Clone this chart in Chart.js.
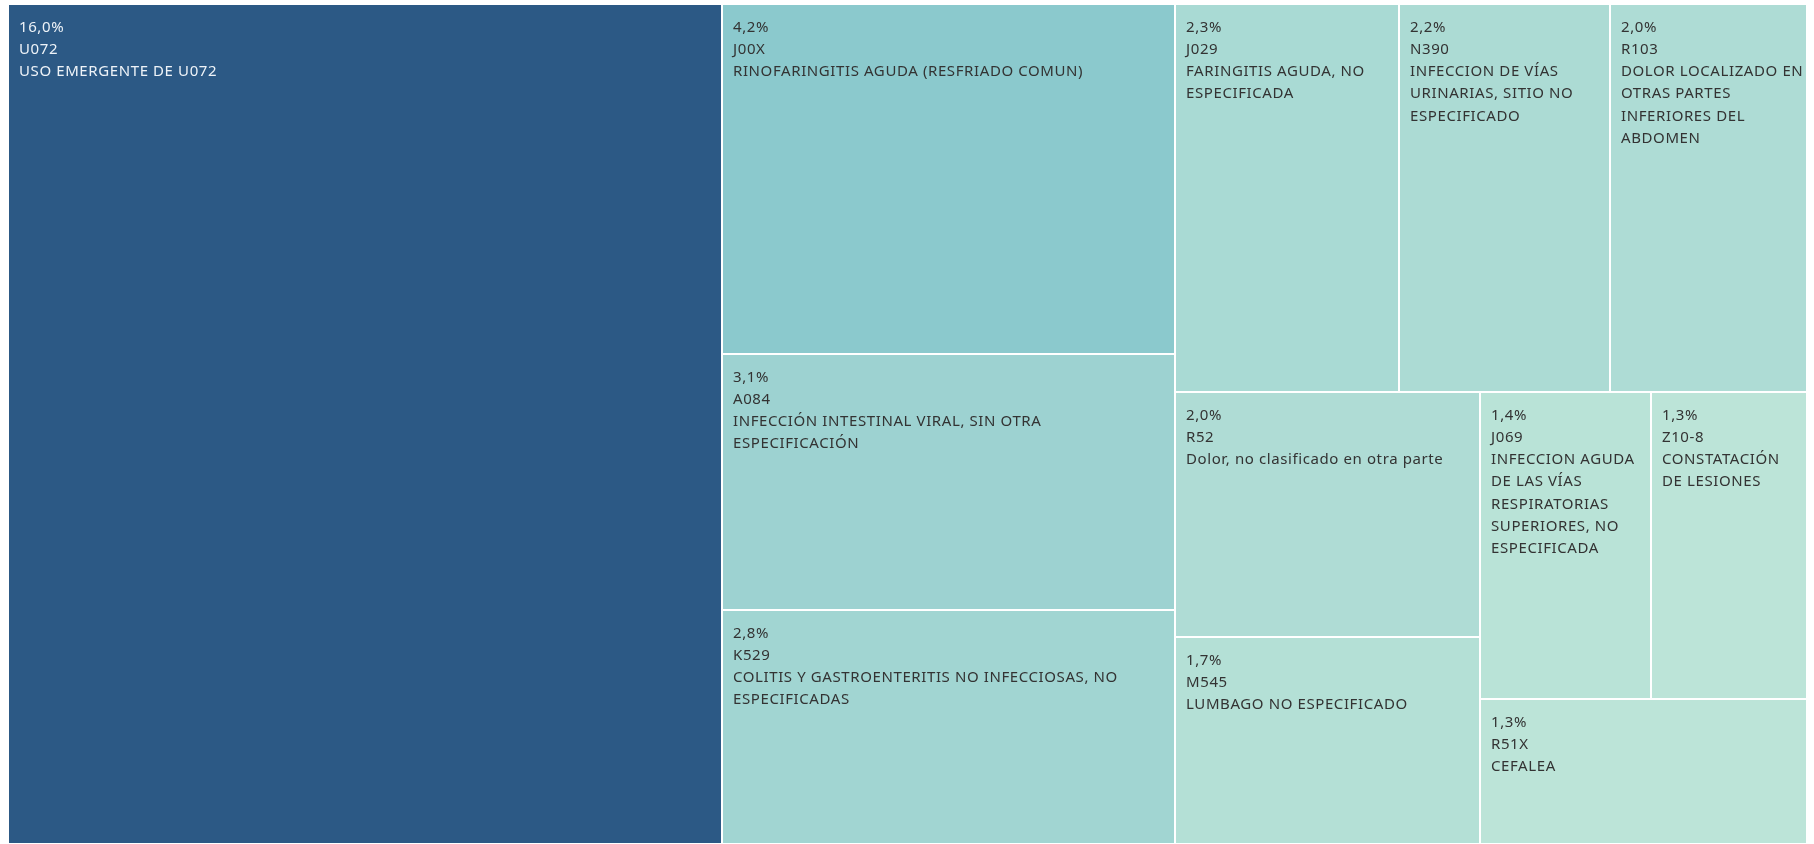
<!DOCTYPE html>
<html>
<head>
<meta charset="utf-8">
<script src="https://cdn.jsdelivr.net/npm/chart.js@4.4.1/dist/chart.umd.min.js"></script>
<style>
    html, body { margin: 0; padding: 0; background: #ffffff; }
    #wrap { width: 1814px; height: 844px; position: relative; }
</style>
</head>
<body>
<div id="wrap"><canvas id="treemap"></canvas></div>
<script>
// --- DATA (share of total cases, %) ---
const codes = ['U072', 'J00X', 'A084', 'K529', 'J029', 'N390', 'R103', 'R52', 'M545', 'J069', 'Z10-8', 'R51X'];
const shares = [16.0, 4.22, 3.1, 2.82, 2.31, 2.18, 2.04, 2.0, 1.68, 1.4, 1.28, 1.26];
const descriptions = [
    ['USO EMERGENTE DE U072'],
    ['RINOFARINGITIS AGUDA (RESFRIADO COMUN)'],
    ['INFECCIÓN INTESTINAL VIRAL, SIN OTRA', 'ESPECIFICACIÓN'],
    ['COLITIS Y GASTROENTERITIS NO INFECCIOSAS, NO', 'ESPECIFICADAS'],
    ['FARINGITIS AGUDA, NO', 'ESPECIFICADA'],
    ['INFECCION DE VÍAS', 'URINARIAS, SITIO NO', 'ESPECIFICADO'],
    ['DOLOR LOCALIZADO EN', 'OTRAS PARTES', 'INFERIORES DEL', 'ABDOMEN'],
    ['Dolor, no clasificado en otra parte'],
    ['LUMBAGO NO ESPECIFICADO'],
    ['INFECCION AGUDA', 'DE LAS VÍAS', 'RESPIRATORIAS', 'SUPERIORES, NO', 'ESPECIFICADA'],
    ['CONSTATACIÓN', 'DE LESIONES'],
    ['CEFALEA']
];

// Blue-Teal sequential palette, light -> dark
const palette = ['#bce4d8', '#aedcd5', '#a1d5d2', '#95cecf', '#89c8cc', '#7ec1ca', '#72bac6', '#66b2c2', '#59acbe', '#4ba5ba',
                 '#419eb6', '#3b96b2', '#358ead', '#3586a7', '#347ea1', '#32779b', '#316f96', '#2f6790', '#2d608a', '#2c5985'];

function hexToRgb(h) { return [1, 3, 5].map(i => parseInt(h.slice(i, i + 2), 16)); }

function colorFor(v) {
    const lo = Math.min(...shares), hi = Math.max(...shares);
    const t = (v - lo) / (hi - lo) * (palette.length - 1);
    const i = Math.min(Math.floor(t), palette.length - 2), f = t - i;
    const a = hexToRgb(palette[i]), b = hexToRgb(palette[i + 1]);
    return a.map((c, k) => Math.round(c + (b[k] - c) * f));
}

// squarified layout (golden-ratio variant, as used by most treemap tools)
function squarify(values, x0, y0, x1, y1) {
    const ratio = (1 + Math.sqrt(5)) / 2;
    const rects = [];
    let value = values.reduce((s, v) => s + v, 0);
    let i0 = 0, i1 = 0;
    const n = values.length;
    while (i0 < n) {
        const dx = x1 - x0, dy = y1 - y0;
        let sumValue = values[i1++];
        let minValue = sumValue, maxValue = sumValue;
        const alpha = Math.max(dy / dx, dx / dy) / (value * ratio);
        let beta = sumValue * sumValue * alpha;
        let minRatio = Math.max(maxValue / beta, beta / minValue);
        for (; i1 < n; ++i1) {
            const v = values[i1];
            sumValue += v;
            if (v < minValue) minValue = v;
            if (v > maxValue) maxValue = v;
            beta = sumValue * sumValue * alpha;
            const newRatio = Math.max(maxValue / beta, beta / minValue);
            if (newRatio > minRatio) { sumValue -= v; break; }
            minRatio = newRatio;
        }
        if (dx < dy) {
            // horizontal row along the top
            const h = dy * sumValue / value;
            let x = x0;
            for (let i = i0; i < i1; i++) {
                const w = dx * values[i] / sumValue;
                rects[i] = { x0: x, y0: y0, x1: x + w, y1: y0 + h };
                x += w;
            }
            y0 += h;
        } else {
            // vertical column on the left
            const w = dx * sumValue / value;
            let y = y0;
            for (let i = i0; i < i1; i++) {
                const h = dy * values[i] / sumValue;
                rects[i] = { x0: x0, y0: y, x1: x0 + w, y1: y + h };
                y += h;
            }
            x0 += w;
        }
        value -= sumValue;
        i0 = i1;
    }
    return rects;
}

const treemapPlugin = {
    id: 'treemap',
    afterDatasetsDraw(chart) {
        const { ctx, chartArea, scales: { x, y } } = chart;
        const aspect = chartArea.width / chartArea.height;
        const cells = squarify(shares, 0, 0, aspect, 1);

        cells.forEach((c, i) => {
            const left = Math.round(x.getPixelForValue(c.x0 / aspect)) + 1;
            const right = Math.round(x.getPixelForValue(c.x1 / aspect)) - 1;
            const top = Math.round(y.getPixelForValue(c.y0)) + 1;
            const bottom = Math.round(y.getPixelForValue(c.y1)) - 1;
            const rgb = colorFor(shares[i]);

            ctx.save();
            ctx.fillStyle = `rgb(${rgb.join(',')})`;
            ctx.fillRect(left, top, right - left, bottom - top);

            // labels
            ctx.beginPath();
            ctx.rect(left, top, right - left, bottom - top);
            ctx.clip();
            const lum = 0.299 * rgb[0] + 0.587 * rgb[1] + 0.114 * rgb[2];
            ctx.fillStyle = lum < 128 ? '#eef3f8' : '#333333';
            ctx.font = '15px "Noto Sans"';
            ctx.letterSpacing = '0.6px';
            ctx.textBaseline = 'alphabetic';
            const lines = [shares[i].toFixed(1).replace('.', ',') + '%', codes[i], ...descriptions[i]];
            lines.forEach((line, k) => ctx.fillText(line, left + 10, top + 26.5 + k * 22.3));
            ctx.restore();
        });
    }
};

new Chart(document.getElementById('treemap'), {
    type: 'scatter',
    data: { datasets: [{ data: [] }] },
    options: {
        responsive: true,
        maintainAspectRatio: false,
        animation: false,
        events: [],
        layout: { padding: { left: 8, top: 4, right: 7, bottom: 0 } },
        plugins: { legend: { display: false }, tooltip: { enabled: false } },
        scales: {
            x: { type: 'linear', min: 0, max: 1, display: false },
            y: { type: 'linear', min: 0, max: 1, reverse: true, display: false }
        }
    },
    plugins: [treemapPlugin]
});
</script>
</body>
</html>
